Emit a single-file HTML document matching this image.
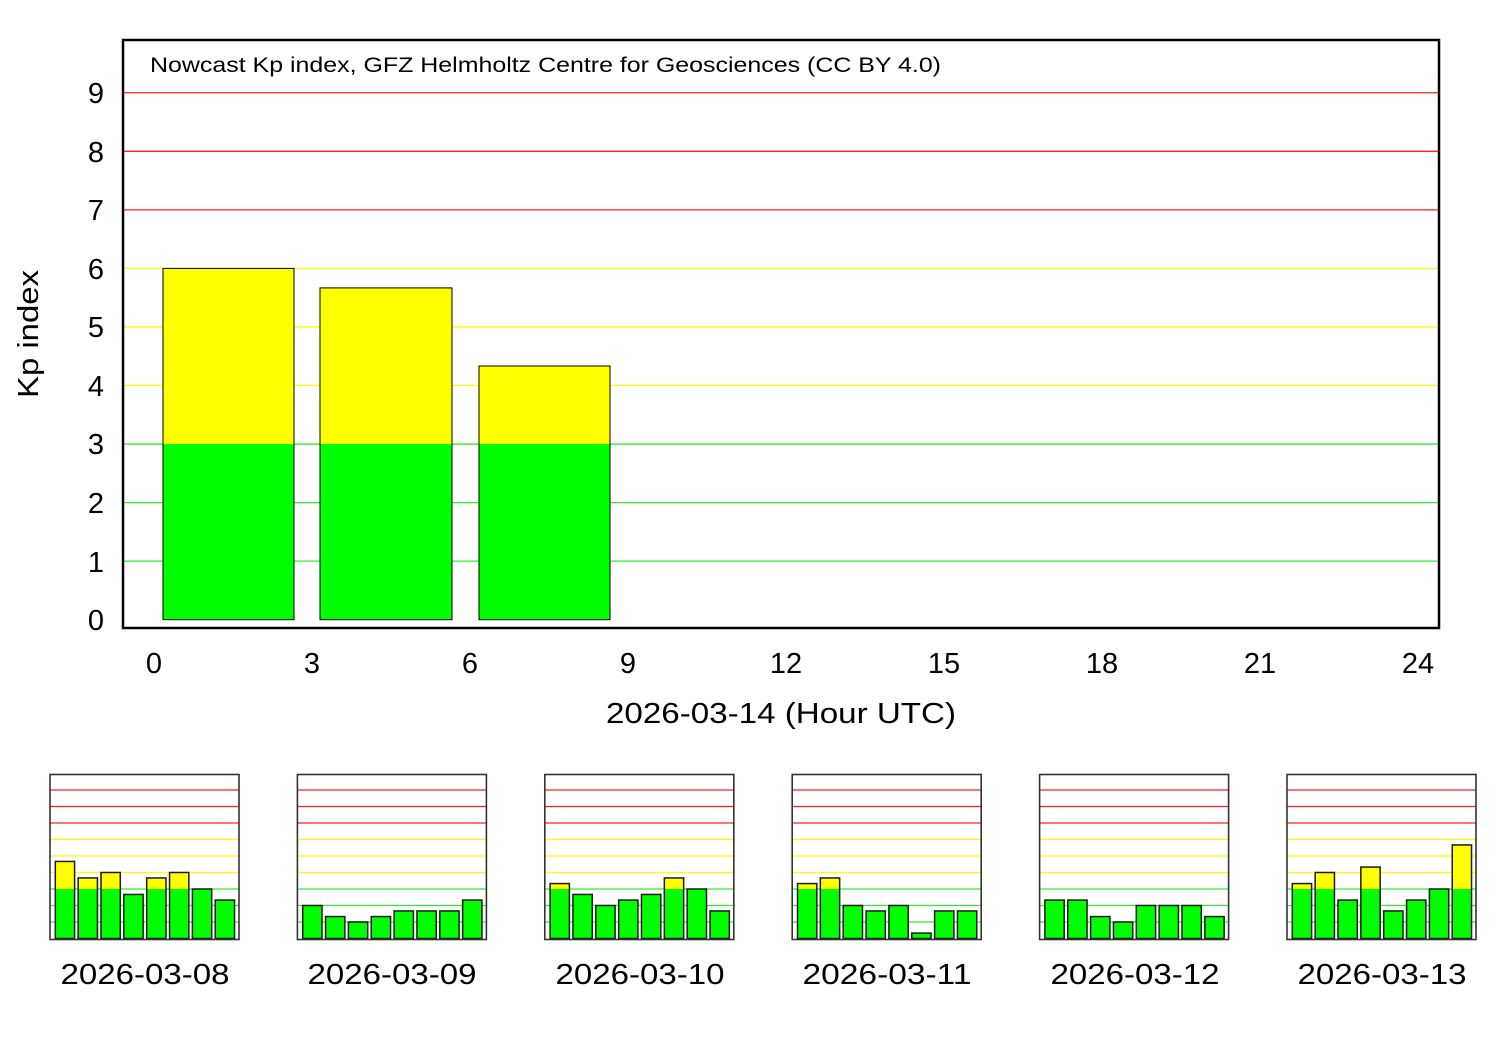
<!DOCTYPE html>
<html><head><meta charset="utf-8"><style>
html,body{margin:0;padding:0;background:#fff;}
svg{display:block;font-family:"Liberation Sans",sans-serif;}
</style></head><body>
<svg id="s" width="1500" height="1050" viewBox="0 0 1500 1050" xmlns="http://www.w3.org/2000/svg">
<rect width="1500" height="1050" fill="#fff"/>
<g id="main"></g>
<g id="small"></g>
<text x="150" y="72" font-size="21" textLength="791" lengthAdjust="spacingAndGlyphs">Nowcast Kp index, GFZ Helmholtz Centre for Geosciences (CC BY 4.0)</text>
<g font-size="29" text-anchor="end">
<text x="104" y="103">9</text><text x="104" y="162">8</text><text x="104" y="220">7</text>
<text x="104" y="279">6</text><text x="104" y="337">5</text><text x="104" y="396">4</text>
<text x="104" y="454">3</text><text x="104" y="513">2</text><text x="104" y="572">1</text>
<text x="104" y="630">0</text>
</g>
<g font-size="29" text-anchor="middle">
<text x="154" y="673">0</text><text x="312" y="673">3</text><text x="470" y="673">6</text>
<text x="628" y="673">9</text><text x="786" y="673">12</text><text x="944" y="673">15</text>
<text x="1102" y="673">18</text><text x="1260" y="673">21</text><text x="1418" y="673">24</text>
<text x="781" y="723" textLength="350" lengthAdjust="spacingAndGlyphs">2026-03-14 (Hour UTC)</text>
<text x="145" y="984" textLength="169" lengthAdjust="spacingAndGlyphs">2026-03-08</text><text x="392" y="984" textLength="169" lengthAdjust="spacingAndGlyphs">2026-03-09</text>
<text x="640" y="984" textLength="169" lengthAdjust="spacingAndGlyphs">2026-03-10</text><text x="887" y="984" textLength="169" lengthAdjust="spacingAndGlyphs">2026-03-11</text>
<text x="1135" y="984" textLength="169" lengthAdjust="spacingAndGlyphs">2026-03-12</text><text x="1382" y="984" textLength="169" lengthAdjust="spacingAndGlyphs">2026-03-13</text>
</g>
<text transform="translate(38,334) rotate(-90)" font-size="29" text-anchor="middle" textLength="128" lengthAdjust="spacingAndGlyphs">Kp index</text>
</svg>
<script>
var NS="http://www.w3.org/2000/svg";
function el(p,t,a){var e=document.createElementNS(NS,t);for(var k in a)e.setAttribute(k,a[k]);p.appendChild(e);return e;}
function gc(i){return i<=3?"#33ee33":(i<=6?"#ffff00":"#ff2020");}
var m=document.getElementById("main");
var y0=619.7,u=58.55;
for(var i=1;i<=9;i++){var y=y0-i*u;el(m,"line",{x1:123,x2:1439,y1:y,y2:y,stroke:gc(i),"stroke-width":1.3});}
var mb=[[163,294,6],[320,452,5.667],[479,610,4.333]];
mb.forEach(function(b){
 var top=y0-b[2]*u,t3=y0-3*u;
 if(b[2]>3) el(m,"rect",{x:b[0],y:top,width:b[1]-b[0],height:t3-top,fill:"#ffff00"});
 el(m,"rect",{x:b[0],y:Math.max(top,t3),width:b[1]-b[0],height:y0-Math.max(top,t3),fill:"#00ff00"});
 el(m,"rect",{x:b[0],y:top,width:b[1]-b[0],height:y0-top,fill:"none",stroke:"#000","stroke-width":1});
});
el(m,"rect",{x:123,y:40,width:1316,height:588,fill:"none",stroke:"#000","stroke-width":2.5});
var s=document.getElementById("small");
var data=[[4.67,3.67,4,2.67,3.67,4,3,2.33],[2,1.33,1,1.33,1.67,1.67,1.67,2.33],[3.33,2.67,2,2.33,2.67,3.67,3,1.67],[3.33,3.67,2,1.67,2,0.33,1.67,1.67],[2.33,2.33,1.33,1,2,2,2,1.33],[3.33,4,2.33,4.33,1.67,2.33,3,5.67]];
var sy0=938.5,su=16.5;
data.forEach(function(d,c){
 var ox=50+c*247.4;
 for(var i=1;i<=9;i++){var y=sy0-i*su;el(s,"line",{x1:ox,x2:ox+189,y1:y,y2:y,stroke:gc(i),"stroke-width":1.2});}
 d.forEach(function(v,j){
  var x=ox+5.3+j*22.85,w=19.3,top=sy0-v*su,t3=sy0-3*su;
  if(v>3) el(s,"rect",{x:x,y:top,width:w,height:t3-top,fill:"#ffff00"});
  var g=Math.max(top,t3);
  el(s,"rect",{x:x,y:g,width:w,height:sy0-g,fill:"#00ff00"});
  el(s,"rect",{x:x,y:top,width:w,height:sy0-top,fill:"none",stroke:"#1a1a1a","stroke-width":1.5});
 });
 el(s,"rect",{x:ox,y:774.5,width:189,height:165,fill:"none",stroke:"#333","stroke-width":1.6});
});
</script>
</body></html>
